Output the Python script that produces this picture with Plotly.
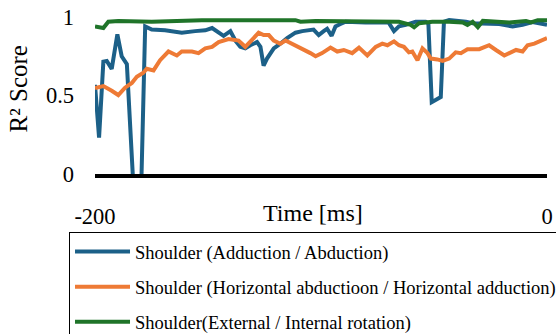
import plotly.graph_objects as go

# Time axis (ms before event) and R² scores for each shoulder degree of freedom
abd_t = [-200, -198.2, -196.3, -194.8, -192.6, -190.1, -188.2, -185.9, -182.0, -180.0,
         -177.8, -174.9, -169.0, -161.6, -155.7, -151.2, -148.2, -145.3, -143.1, -140.1,
         -137.9, -135.7, -133.5, -131.3, -128.3, -126.8, -125.4, -123.9, -120.9, -118.0,
         -115.0, -111.3, -108.3, -103.3, -101.0, -98.8, -97.3, -95.3, -93.6, -91.4,
         -89.1, -80.3, -70.1, -67.7, -65.5, -62.5, -58.1, -53.7, -52.5, -51.0,
         -47.0, -45.6, -43.3, -35.9, -32.9, -21.1, -15.2, -10.8, -6.4, 0]
abd_r2 = [0.568, 0.232, 0.716, 0.72, 0.67, 0.89, 0.75, 0.70, -0.35, -0.35,
          0.94, 0.92, 0.915, 0.90, 0.91, 0.915, 0.93, 0.90, 0.88, 0.91,
          0.85, 0.81, 0.80, 0.82, 0.84, 0.81, 0.69, 0.735, 0.80, 0.83,
          0.865, 0.90, 0.91, 0.92, 0.885, 0.91, 0.925, 0.88, 0.94, 0.955,
          0.97, 0.965, 0.965, 0.91, 0.94, 0.95, 0.97, 0.97, 0.96, 0.457,
          0.49, 0.97, 0.98, 0.97, 0.96, 0.955, 0.94, 0.95, 0.968, 0.95]

hor_t = [-200, -196.3, -192.6, -189.7, -186.7, -183.7, -181.5, -178.6, -177.1, -174.1,
         -171.2, -167.5, -163.8, -161.6, -157.1, -154.2, -151.2, -148.2, -145.3, -140.9,
         -136.5, -133.5, -129.8, -127.6, -125.4, -123.1, -120.9, -118.0, -115.7, -112.8,
         -108.3, -104.7, -102.4, -99.5, -95.8, -92.8, -89.9, -86.2, -83.2, -79.5,
         -75.8, -72.9, -70.6, -67.7, -65.5, -63.3, -61.1, -59.6, -57.3, -55.1,
         -52.9, -51.4, -48.5, -46.2, -43.3, -40.4, -38.1, -35.2, -30.0, -25.6,
         -22.6, -18.9, -13.7, -10.8, -8.6, -5.6, 0]
hor_r2 = [0.548, 0.56, 0.53, 0.503, 0.55, 0.58, 0.62, 0.645, 0.67, 0.66,
          0.725, 0.78, 0.755, 0.78, 0.78, 0.77, 0.80, 0.81, 0.84, 0.86,
          0.85, 0.81, 0.865, 0.90, 0.885, 0.885, 0.85, 0.83, 0.85, 0.83,
          0.80, 0.77, 0.75, 0.77, 0.805, 0.78, 0.79, 0.77, 0.805, 0.755,
          0.81, 0.83, 0.82, 0.845, 0.82, 0.81, 0.775, 0.78, 0.725, 0.80,
          0.77, 0.735, 0.73, 0.72, 0.735, 0.775, 0.77, 0.795, 0.795, 0.82,
          0.79, 0.755, 0.79, 0.78, 0.82, 0.83, 0.865]

rot_t = [-200, -196.3, -194.1, -189.7, -174.9, -160.1, -152.7, -111.3, -109.1, -102.4,
         -77.3, -65.5, -60.3, -58.8, -56.6, -50.7, -43.3, -37.3, -35.2, -32.9,
         -30.6, -28.4, -16.7, -9.3, -7.1, -4.1, 0]
rot_r2 = [0.94, 0.93, 0.97, 0.975, 0.97, 0.975, 0.98, 0.98, 0.97, 0.975,
          0.975, 0.97, 0.95, 0.935, 0.96, 0.97, 0.97, 0.965, 0.95, 0.97,
          0.935, 0.975, 0.965, 0.975, 0.965, 0.98, 0.98]

series = [
    ("Shoulder (Adduction / Abduction)", abd_t, abd_r2, "#1c6088"),
    ("Shoulder (Horizontal abductioon / Horizontal adduction)", hor_t, hor_r2, "#ee7a35"),
    ("Shoulder(External / Internal rotation)", rot_t, rot_r2, "#1f7429"),
]

x_ticks = [-200, 0]
y_ticks = [0, 0.5, 1]

FONT = "Liberation Serif"

fig = go.Figure()
for i, (name, t, r2, color) in enumerate(series):
    fig.add_trace(go.Scatter(
        x=t, y=r2, mode="lines", name=name, legendgroup=f"g{i}",
        line=dict(color=color, width=4),
    ))

fig.update_layout(
    width=556, height=334,
    margin=dict(l=95, r=9, t=17, b=160, autoexpand=False),
    paper_bgcolor="white", plot_bgcolor="white",
    font=dict(family=FONT, color="black", size=22.5),
    showlegend=True,
    legend=dict(
        x=-0.0575, y=-0.37, xanchor="left", yanchor="top",
        bordercolor="black", borderwidth=1,
        font=dict(family=FONT, size=18.5, color="black"),
        itemwidth=55, tracegroupgap=8,
    ),
    xaxis=dict(
        range=[-200, 0], tickvals=x_ticks, ticktext=[str(v) for v in x_ticks],
        showgrid=False, zeroline=False,
        showline=True, linecolor="black", linewidth=4,
        ticks="", ticklabelstandoff=19,
    ),
    yaxis=dict(
        range=[0, 1], tickvals=y_ticks, ticktext=["0", "0.5", "1"],
        showgrid=False, zeroline=False, showline=False,
        ticks="", ticklabelstandoff=20,
    ),
    annotations=[
        dict(text="R² Score", xref="paper", yref="paper", x=-0.17, y=0.54,
             xanchor="center", yanchor="middle",
             textangle=-90, showarrow=False, font=dict(size=25)),
        dict(text="Time [ms]", xref="paper", yref="paper", x=0.483, y=-0.25,
             yanchor="middle", showarrow=False, font=dict(size=24)),
    ],
)

fig.write_html("out.html")
